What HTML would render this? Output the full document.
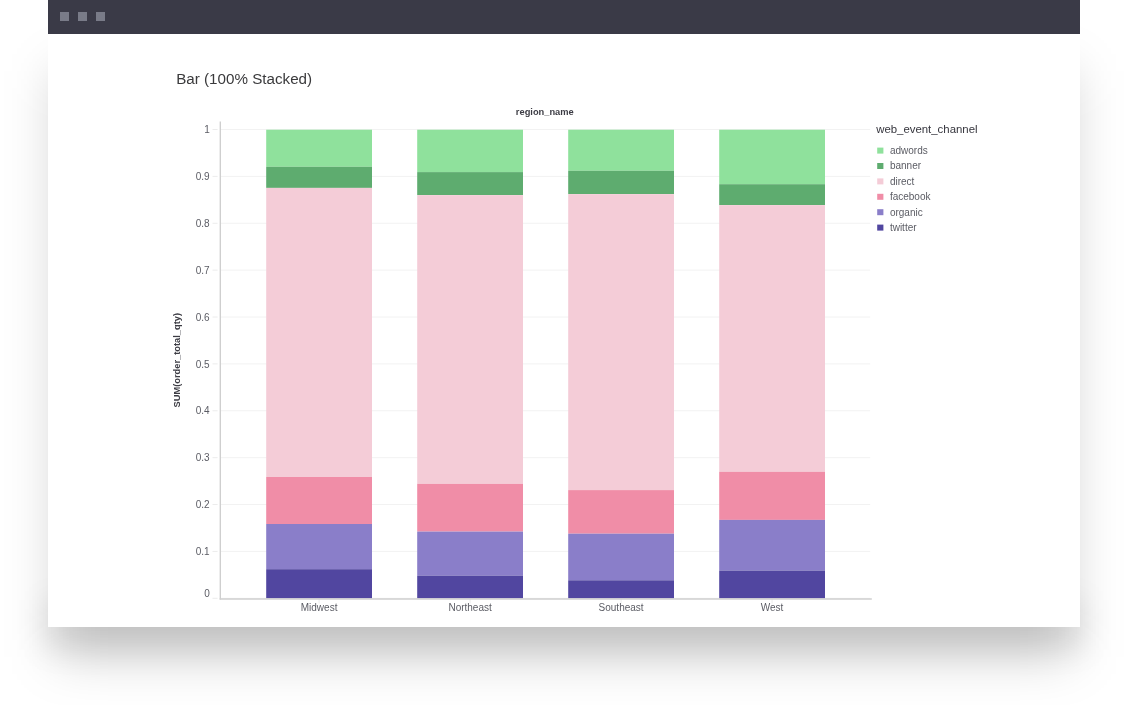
<!DOCTYPE html>
<html lang="en">
<head>
<meta charset="utf-8">
<title>Bar (100% Stacked)</title>
<style>
html,body{margin:0;padding:0;background:#fff;}
body{width:1128px;height:705px;position:relative;overflow:hidden;font-family:"Liberation Sans",sans-serif;}
.win{position:absolute;left:48px;top:0;width:1032px;height:626.7px;background:#fff;}
.sh1{position:absolute;left:56px;top:71px;width:1016px;height:586px;background:rgba(0,0,0,0.19);filter:blur(25px);}
.sh2{position:absolute;left:44px;top:600px;width:1040px;height:50px;background:rgba(0,0,0,0.07);filter:blur(14px);}
.bar{position:absolute;left:0;top:0;width:100%;height:33.7px;background:#3a3a47;}
.bar i{position:absolute;top:12px;width:9px;height:9px;background:#797b88;}
h1{position:absolute;left:176.2px;top:69.1px;margin:0;font-size:15.2px;line-height:20px;font-weight:400;color:#3a3a3c;white-space:nowrap;}
svg{position:absolute;left:0;top:0;}
svg text{font-family:"Liberation Sans",sans-serif;}
.tick{font-size:10px;fill:#5b5c64;}
.atitle{font-size:9.3px;font-weight:700;fill:#3c3c44;}
.ltitle{font-size:11.4px;fill:#34343c;}
.leg{font-size:10px;fill:#5b5c64;}
</style>
</head>
<body>
<div class="sh1"></div><div class="sh2"></div>
<div class="win">
  <div class="bar"><i style="left:12px"></i><i style="left:30px"></i><i style="left:48px"></i></div>
</div>
<h1>Bar (100% Stacked)</h1>
<svg width="1128" height="705" viewBox="0 0 1128 705">
<line x1="220.3" x2="870.2" y1="598.30" y2="598.30" stroke="#f2f2f2" stroke-width="1"/>
<line x1="212.5" x2="217.6" y1="598.30" y2="598.30" stroke="#ececec" stroke-width="1"/>
<text class="tick" x="209.7" y="597.40" text-anchor="end">0</text>
<line x1="220.3" x2="870.2" y1="551.42" y2="551.42" stroke="#f2f2f2" stroke-width="1"/>
<line x1="212.5" x2="217.6" y1="551.42" y2="551.42" stroke="#ececec" stroke-width="1"/>
<text class="tick" x="209.7" y="555.02" text-anchor="end">0.1</text>
<line x1="220.3" x2="870.2" y1="504.54" y2="504.54" stroke="#f2f2f2" stroke-width="1"/>
<line x1="212.5" x2="217.6" y1="504.54" y2="504.54" stroke="#ececec" stroke-width="1"/>
<text class="tick" x="209.7" y="508.14" text-anchor="end">0.2</text>
<line x1="220.3" x2="870.2" y1="457.66" y2="457.66" stroke="#f2f2f2" stroke-width="1"/>
<line x1="212.5" x2="217.6" y1="457.66" y2="457.66" stroke="#ececec" stroke-width="1"/>
<text class="tick" x="209.7" y="461.26" text-anchor="end">0.3</text>
<line x1="220.3" x2="870.2" y1="410.78" y2="410.78" stroke="#f2f2f2" stroke-width="1"/>
<line x1="212.5" x2="217.6" y1="410.78" y2="410.78" stroke="#ececec" stroke-width="1"/>
<text class="tick" x="209.7" y="414.38" text-anchor="end">0.4</text>
<line x1="220.3" x2="870.2" y1="363.90" y2="363.90" stroke="#f2f2f2" stroke-width="1"/>
<line x1="212.5" x2="217.6" y1="363.90" y2="363.90" stroke="#ececec" stroke-width="1"/>
<text class="tick" x="209.7" y="367.50" text-anchor="end">0.5</text>
<line x1="220.3" x2="870.2" y1="317.02" y2="317.02" stroke="#f2f2f2" stroke-width="1"/>
<line x1="212.5" x2="217.6" y1="317.02" y2="317.02" stroke="#ececec" stroke-width="1"/>
<text class="tick" x="209.7" y="320.62" text-anchor="end">0.6</text>
<line x1="220.3" x2="870.2" y1="270.14" y2="270.14" stroke="#f2f2f2" stroke-width="1"/>
<line x1="212.5" x2="217.6" y1="270.14" y2="270.14" stroke="#ececec" stroke-width="1"/>
<text class="tick" x="209.7" y="273.74" text-anchor="end">0.7</text>
<line x1="220.3" x2="870.2" y1="223.26" y2="223.26" stroke="#f2f2f2" stroke-width="1"/>
<line x1="212.5" x2="217.6" y1="223.26" y2="223.26" stroke="#ececec" stroke-width="1"/>
<text class="tick" x="209.7" y="226.86" text-anchor="end">0.8</text>
<line x1="220.3" x2="870.2" y1="176.38" y2="176.38" stroke="#f2f2f2" stroke-width="1"/>
<line x1="212.5" x2="217.6" y1="176.38" y2="176.38" stroke="#ececec" stroke-width="1"/>
<text class="tick" x="209.7" y="179.98" text-anchor="end">0.9</text>
<line x1="220.3" x2="870.2" y1="129.50" y2="129.50" stroke="#f2f2f2" stroke-width="1"/>
<line x1="212.5" x2="217.6" y1="129.50" y2="129.50" stroke="#ececec" stroke-width="1"/>
<text class="tick" x="209.7" y="133.10" text-anchor="end">1</text>
<rect x="266.2" y="129.7" width="105.8" height="37.10" fill="#8fe19c"/>
<rect x="266.2" y="166.8" width="105.8" height="21.10" fill="#5eac6f"/>
<rect x="266.2" y="187.9" width="105.8" height="289.10" fill="#f4ccd7"/>
<rect x="266.2" y="477.0" width="105.8" height="47.00" fill="#f08da7"/>
<rect x="266.2" y="524.0" width="105.8" height="45.20" fill="#8a7ec9"/>
<rect x="266.2" y="569.2" width="105.8" height="29.10" fill="#5146a0"/>
<line x1="319.10" x2="319.10" y1="599" y2="603.5" stroke="#ececec" stroke-width="1"/>
<text class="tick" x="319.10" y="610.9" text-anchor="middle">Midwest</text>
<rect x="417.2" y="129.7" width="105.8" height="42.40" fill="#8fe19c"/>
<rect x="417.2" y="172.1" width="105.8" height="23.00" fill="#5eac6f"/>
<rect x="417.2" y="195.1" width="105.8" height="288.80" fill="#f4ccd7"/>
<rect x="417.2" y="483.9" width="105.8" height="47.70" fill="#f08da7"/>
<rect x="417.2" y="531.6" width="105.8" height="44.10" fill="#8a7ec9"/>
<rect x="417.2" y="575.7" width="105.8" height="22.60" fill="#5146a0"/>
<line x1="470.10" x2="470.10" y1="599" y2="603.5" stroke="#ececec" stroke-width="1"/>
<text class="tick" x="470.10" y="610.9" text-anchor="middle">Northeast</text>
<rect x="568.2" y="129.7" width="105.8" height="41.10" fill="#8fe19c"/>
<rect x="568.2" y="170.8" width="105.8" height="23.30" fill="#5eac6f"/>
<rect x="568.2" y="194.1" width="105.8" height="296.00" fill="#f4ccd7"/>
<rect x="568.2" y="490.1" width="105.8" height="43.60" fill="#f08da7"/>
<rect x="568.2" y="533.7" width="105.8" height="46.60" fill="#8a7ec9"/>
<rect x="568.2" y="580.3" width="105.8" height="18.00" fill="#5146a0"/>
<line x1="621.10" x2="621.10" y1="599" y2="603.5" stroke="#ececec" stroke-width="1"/>
<text class="tick" x="621.10" y="610.9" text-anchor="middle">Southeast</text>
<rect x="719.2" y="129.7" width="105.8" height="54.50" fill="#8fe19c"/>
<rect x="719.2" y="184.2" width="105.8" height="20.90" fill="#5eac6f"/>
<rect x="719.2" y="205.1" width="105.8" height="266.70" fill="#f4ccd7"/>
<rect x="719.2" y="471.8" width="105.8" height="48.10" fill="#f08da7"/>
<rect x="719.2" y="519.9" width="105.8" height="50.70" fill="#8a7ec9"/>
<rect x="719.2" y="570.6" width="105.8" height="27.70" fill="#5146a0"/>
<line x1="772.10" x2="772.10" y1="599" y2="603.5" stroke="#ececec" stroke-width="1"/>
<text class="tick" x="772.10" y="610.9" text-anchor="middle">West</text>
<line x1="220.3" x2="220.3" y1="121.5" y2="599.5" stroke="#cdcdcd" stroke-width="1.3"/>
<line x1="219.6" x2="871.8" y1="599.0" y2="599.0" stroke="#cfcfcf" stroke-width="1.6"/>
<text class="atitle" x="544.8" y="114.7" text-anchor="middle">region_name</text>
<text class="atitle" transform="translate(180.3,360.2) rotate(-90)" text-anchor="middle">SUM(order_total_qty)</text>
<text class="ltitle" x="876.2" y="133.3">web_event_channel</text>
<rect x="877.2" y="147.60" width="6.2" height="6" fill="#8fe19c"/>
<text class="leg" x="889.9" y="154.00">adwords</text>
<rect x="877.2" y="163.00" width="6.2" height="6" fill="#5eac6f"/>
<text class="leg" x="889.9" y="169.40">banner</text>
<rect x="877.2" y="178.40" width="6.2" height="6" fill="#f4ccd7"/>
<text class="leg" x="889.9" y="184.80">direct</text>
<rect x="877.2" y="193.80" width="6.2" height="6" fill="#f08da7"/>
<text class="leg" x="889.9" y="200.20">facebook</text>
<rect x="877.2" y="209.20" width="6.2" height="6" fill="#8a7ec9"/>
<text class="leg" x="889.9" y="215.60">organic</text>
<rect x="877.2" y="224.60" width="6.2" height="6" fill="#5146a0"/>
<text class="leg" x="889.9" y="231.00">twitter</text>
</svg>
</body>
</html>
